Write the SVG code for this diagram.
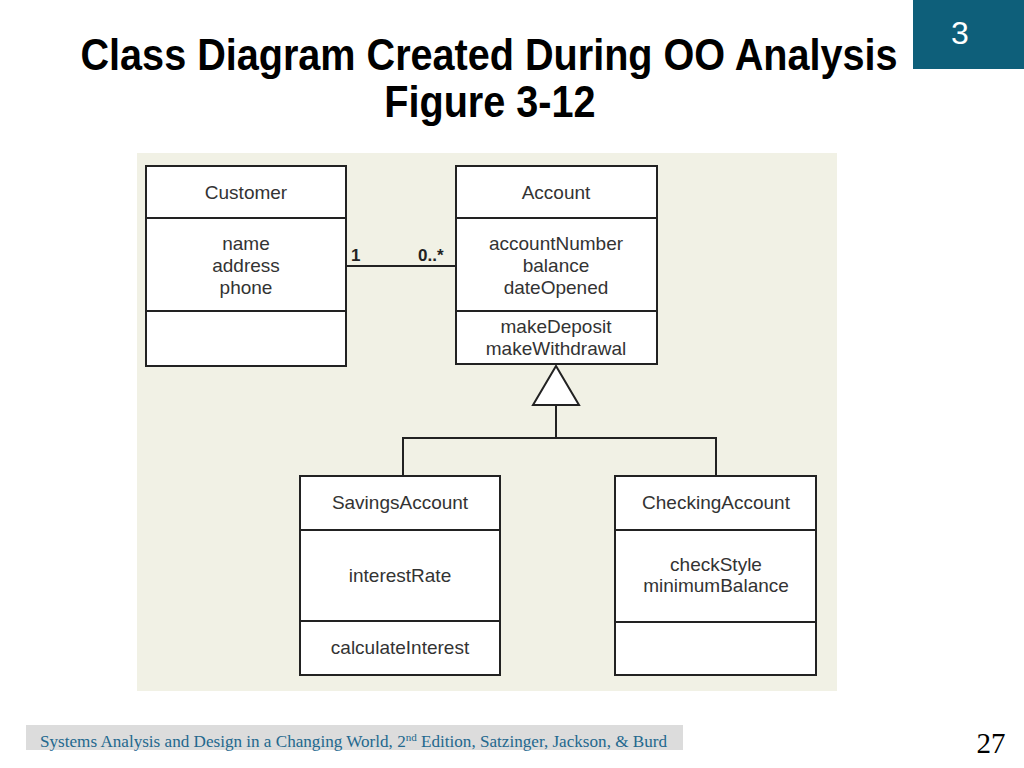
<svg xmlns="http://www.w3.org/2000/svg" width="1024" height="768" viewBox="0 0 1024 768">
<style>
.box{fill:#ffffff;stroke:#222222;stroke-width:2}
.div{stroke:#222222;stroke-width:2}
.conn{fill:none;stroke:#222222;stroke-width:2}
.t{font-family:"Liberation Sans",Arial,sans-serif;font-size:19px;fill:#333333;text-anchor:middle}
.m{font-family:"Liberation Sans",Arial,sans-serif;font-size:17px;font-weight:bold;fill:#222222}
.title{font-family:"Liberation Sans",Arial,sans-serif;font-size:45px;font-weight:bold;fill:#000000;text-anchor:middle}
</style>
<rect x="0" y="0" width="1024" height="768" fill="#ffffff"/>
<rect x="913" y="0" width="111" height="69" fill="#0e5f7a"/>
<text x="960" y="44" font-family="Liberation Sans,Arial,sans-serif" font-size="32" fill="#ffffff" text-anchor="middle">3</text>
<g transform="translate(489,0) scale(0.88,1)">
<text class="title" x="0" y="70">Class Diagram Created During OO Analysis</text>
<text class="title" x="1" y="117">Figure 3-12</text>
</g>
<rect x="137" y="153" width="700" height="538" fill="#f1f1e5"/>
<g id="connectors">
<line class="conn" x1="346" y1="266" x2="456" y2="266"/>
<polygon points="556,366 533,405 579,405" fill="#ffffff" stroke="#222222" stroke-width="2"/>
<polyline class="conn" points="556,405 556,438"/>
<polyline class="conn" points="403,476 403,438 716,438 716,476"/>
<text class="m" x="351" y="261">1</text>
<text class="m" x="418" y="261">0..*</text>
</g>
<g id="customer">
<rect class="box" x="146" y="166" width="200" height="200"/>
<line class="div" x1="146" y1="218" x2="346" y2="218"/>
<line class="div" x1="146" y1="311" x2="346" y2="311"/>
<text class="t" x="246" y="199">Customer</text>
<text class="t" x="246" y="250">name</text>
<text class="t" x="246" y="272">address</text>
<text class="t" x="246" y="294">phone</text>
</g>
<g id="account">
<rect class="box" x="456" y="166" width="201" height="198"/>
<line class="div" x1="456" y1="218" x2="657" y2="218"/>
<line class="div" x1="456" y1="311" x2="657" y2="311"/>
<text class="t" x="556" y="199">Account</text>
<text class="t" x="556" y="250">accountNumber</text>
<text class="t" x="556" y="272">balance</text>
<text class="t" x="556" y="294">dateOpened</text>
<text class="t" x="556" y="333">makeDeposit</text>
<text class="t" x="556" y="355">makeWithdrawal</text>
</g>
<g id="savings">
<rect class="box" x="300" y="476" width="200" height="199"/>
<line class="div" x1="300" y1="530" x2="500" y2="530"/>
<line class="div" x1="300" y1="621" x2="500" y2="621"/>
<text class="t" x="400" y="509">SavingsAccount</text>
<text class="t" x="400" y="582">interestRate</text>
<text class="t" x="400" y="654">calculateInterest</text>
</g>
<g id="checking">
<rect class="box" x="615" y="476" width="201" height="199"/>
<line class="div" x1="615" y1="530" x2="816" y2="530"/>
<line class="div" x1="615" y1="622" x2="816" y2="622"/>
<text class="t" x="716" y="509">CheckingAccount</text>
<text class="t" x="716" y="571">checkStyle</text>
<text class="t" x="716" y="592">minimumBalance</text>
</g>
<rect x="26" y="725" width="657" height="25" fill="#dcdcdc"/>
<text x="40" y="747" font-family="Liberation Serif,Times New Roman,serif" font-size="17" fill="#23688e" textLength="627" lengthAdjust="spacingAndGlyphs">Systems Analysis and Design in a Changing World, 2<tspan font-size="11" dy="-6">nd</tspan><tspan dy="6"> Edition, Satzinger, Jackson, &amp; Burd</tspan></text>
<text x="991" y="753" font-family="Liberation Serif,Times New Roman,serif" font-size="29" fill="#000000" text-anchor="middle">27</text>
</svg>
